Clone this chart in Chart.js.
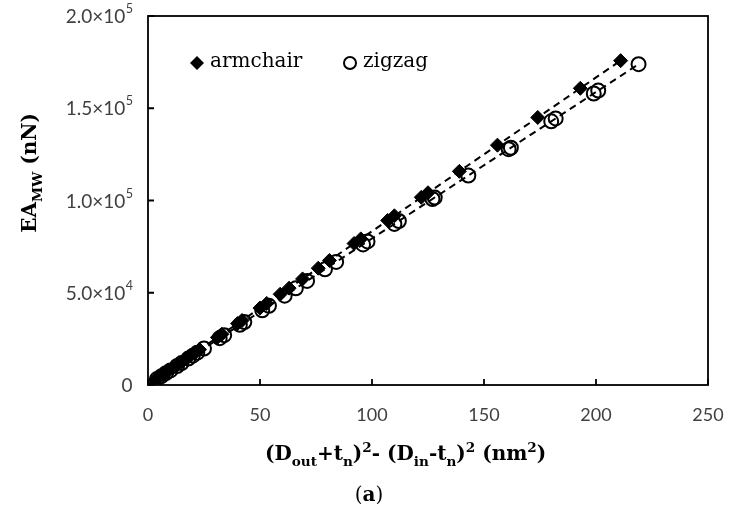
<!DOCTYPE html>
<html><head><meta charset="utf-8">
<script src="https://cdn.jsdelivr.net/npm/chart.js@4/dist/chart.umd.min.js"></script>
<style>html,body{margin:0;padding:0;background:#fff;}</style>
</head><body>
<canvas id="c" width="729" height="523" style="width:729px;height:523px;display:block"></canvas>
<script>
// ---- data (x: (Dout+tn)^2-(Din-tn)^2 in nm^2, y: EA_MW in nN) ----
const armchairX = [3, 5, 7, 9, 11, 13, 15, 17, 19, 21, 23, 31, 33, 40, 42, 50, 53, 59, 63, 69, 76, 81, 92, 95, 107, 110, 122, 125, 139, 156, 174, 193, 211];
const armchairY = [2500, 4200, 5800, 7500, 9200, 10800, 12500, 14200, 15800, 17500, 19200, 25800, 27500, 33300, 35000, 41700, 44200, 49200, 52500, 57500, 63300, 67500, 76700, 79200, 89200, 91700, 101700, 104200, 115800, 130000, 145000, 160800, 175800];
const zigzagX = [4, 6, 8, 10, 13, 15, 18, 20, 22, 25, 32, 34, 41, 43, 51, 54, 61, 66, 71, 79, 84, 96, 98, 110, 112, 127, 128, 143, 161, 162, 180, 182, 199, 201, 219];
const zigzagY = [3200, 4800, 6400, 7900, 10300, 11900, 14300, 15900, 17500, 19800, 25400, 27000, 32600, 34100, 40500, 42900, 48400, 52400, 56400, 62700, 66700, 76200, 77800, 87300, 88900, 100800, 101600, 113500, 127800, 128600, 142900, 144500, 158000, 159600, 173900];
const seriesNames = ['armchair', 'zigzag'];
const xTicks = [0, 50, 100, 150, 200, 250];
const yTicks = [0, 50000, 100000, 150000, 200000];
const yTickMantissa = ['0', '5.0×10', '1.0×10', '1.5×10', '2.0×10'];
const yTickExponent = ['', '4', '5', '5', '5'];

function toPoints(xs, ys) { return xs.map((x, i) => ({ x: x, y: ys[i] })); }
function fitLine(xs, ys) {
  let sxy = 0, sxx = 0;
  xs.forEach((x, i) => { sxy += x * ys[i]; sxx += x * x; });
  const k = sxy / sxx, xmax = Math.max(...xs);
  return [{ x: 0, y: 0 }, { x: xmax, y: k * xmax }];
}

const TITLE_FONT = '"DejaVu Serif"';
const TICK_FONT = 'Lato';
function drawRich(ctx, segs, size, cx, cy) {
  let total = 0;
  const parts = segs.map(s => {
    const fs = s.sub || s.sup ? size * 0.68 : size;
    ctx.font = 'bold ' + fs + 'px ' + TITLE_FONT;
    const w = ctx.measureText(s.t).width;
    total += w;
    return { s, fs, w };
  });
  let x = cx - total / 2;
  ctx.textBaseline = 'alphabetic';
  ctx.textAlign = 'left';
  parts.forEach(p => {
    ctx.font = 'bold ' + p.fs + 'px ' + TITLE_FONT;
    let dy = 0;
    if (p.s.sub) dy = size * 0.28;
    if (p.s.sup) dy = -size * 0.38;
    ctx.fillText(p.s.t, x, cy + size * 0.35 + dy);
    x += p.w;
  });
}

const decor = {
  id: 'decor',
  afterDraw(chart) {
    const ctx = chart.ctx, a = chart.chartArea;
    const xs = chart.scales.x, ys = chart.scales.y;
    ctx.save();
    ctx.strokeStyle = '#000';
    ctx.lineWidth = 1.8;
    ctx.strokeRect(a.left, a.top, a.right - a.left, a.bottom - a.top);
    // inward ticks
    ctx.beginPath();
    xTicks.forEach(v => {
      const px = xs.getPixelForValue(v);
      ctx.moveTo(px, a.bottom); ctx.lineTo(px, a.bottom - 6);
    });
    yTicks.forEach(v => {
      const py = ys.getPixelForValue(v);
      ctx.moveTo(a.left, py); ctx.lineTo(a.left + 6, py);
    });
    ctx.stroke();

    // y tick labels with superscript exponent
    ctx.fillStyle = '#404040';
    ctx.textBaseline = 'middle';
    yTicks.forEach((v, i) => {
      const py = ys.getPixelForValue(v);
      const right = a.left - 15;
      ctx.font = '12.5px ' + TICK_FONT;
      const we = yTickExponent[i] ? ctx.measureText(yTickExponent[i]).width : 0;
      ctx.textAlign = 'right';
      if (we) ctx.fillText(yTickExponent[i], right, py - 7);
      ctx.font = '19px ' + TICK_FONT;
      ctx.fillText(yTickMantissa[i], right - we - 0.5, py + 1);
    });

    // legend
    const ly = a.top + 47;
    ctx.fillStyle = '#000';
    ctx.strokeStyle = '#000';
    let lx = a.left + 49;
    ctx.beginPath();
    ctx.moveTo(lx, ly - 7); ctx.lineTo(lx + 7, ly); ctx.lineTo(lx, ly + 7); ctx.lineTo(lx - 7, ly); ctx.closePath();
    ctx.fill();
    ctx.font = '20px ' + TITLE_FONT;
    ctx.textBaseline = 'middle'; ctx.textAlign = 'left';
    ctx.fillText(seriesNames[0], lx + 13, ly - 1);
    lx = a.left + 202;
    ctx.beginPath(); ctx.lineWidth = 2; ctx.arc(lx, ly, 6, 0, Math.PI * 2); ctx.stroke();
    ctx.fillText(seriesNames[1], lx + 13, ly - 1);

    // axis titles
    ctx.fillStyle = '#000';
    const cxTitle = a.left + (a.right - a.left) * 0.46;
    drawRich(ctx, [{ t: '(D' }, { t: 'out', sub: 1 }, { t: '+t' }, { t: 'n', sub: 1 }, { t: ')' }, { t: '2', sup: 1 },
      { t: '- (D' }, { t: 'in', sub: 1 }, { t: '-t' }, { t: 'n', sub: 1 }, { t: ')' }, { t: '2', sup: 1 },
      { t: ' (nm' }, { t: '2', sup: 1 }, { t: ')' }], 20, cxTitle, a.bottom + 68);
    ctx.save();
    ctx.translate(29, a.top + (a.bottom - a.top) * 0.425);
    ctx.rotate(-Math.PI / 2);
    drawRich(ctx, [{ t: 'EA' }, { t: 'MW', sub: 1 }, { t: ' (nN)' }], 20, 0, 0);
    ctx.restore();

    // caption (a)
    ctx.textBaseline = 'middle';
    ctx.textAlign = 'left';
    ctx.font = '20px ' + TITLE_FONT;
    const w1 = ctx.measureText('(').width;
    ctx.font = 'bold 20px ' + TITLE_FONT;
    const w2 = ctx.measureText('a').width;
    const cx = 369 - (2 * w1 + w2) / 2, cy = a.bottom + 111;
    ctx.font = '20px ' + TITLE_FONT; ctx.fillText('(', cx, cy);
    ctx.font = 'bold 20px ' + TITLE_FONT; ctx.fillText('a', cx + w1, cy);
    ctx.font = '20px ' + TITLE_FONT; ctx.fillText(')', cx + w1 + w2, cy);
    ctx.restore();
  }
};

new Chart(document.getElementById('c'), {
  type: 'scatter',
  data: {
    datasets: [
      { label: seriesNames[0], data: toPoints(armchairX, armchairY), pointStyle: 'rectRot', pointRadius: 7, pointHoverRadius: 7,
        backgroundColor: '#000', borderColor: '#000', borderWidth: 1, order: 2 },
      { label: seriesNames[1], data: toPoints(zigzagX, zigzagY), pointStyle: 'circle', pointRadius: 7, pointHoverRadius: 7,
        backgroundColor: 'rgba(255,255,255,0)', borderColor: '#000', borderWidth: 2, order: 1 },
      { label: 'fit armchair', type: 'line', data: fitLine(armchairX, armchairY), borderColor: '#000', borderWidth: 2,
        borderDash: [7, 5], pointRadius: 0, fill: false, order: 3 },
      { label: 'fit zigzag', type: 'line', data: fitLine(zigzagX, zigzagY), borderColor: '#000', borderWidth: 2,
        borderDash: [7, 5], pointRadius: 0, fill: false, order: 3 }
    ]
  },
  options: {
    responsive: false, animation: false,
    layout: { padding: { top: 16, right: 21, left: 0, bottom: 0 } },
    plugins: { legend: { display: false }, tooltip: { enabled: false } },
    scales: {
      x: {
        type: 'linear', min: 0, max: 250,
        afterBuildTicks: s => { s.ticks = xTicks.map(v => ({ value: v })); },
        grid: { display: false, drawTicks: false },
        border: { display: false },
        ticks: { padding: 19, color: '#404040', font: { family: TICK_FONT, size: 18 }, maxRotation: 0, callback: v => String(v) },
        afterFit: s => { s.height = 138; s.paddingLeft = 0; s.paddingRight = 0; }
      },
      y: {
        type: 'linear', min: 0, max: 200000,
        afterBuildTicks: s => { s.ticks = yTicks.map(v => ({ value: v })); },
        grid: { display: false, drawTicks: false },
        border: { display: false },
        ticks: { display: false },
        afterFit: s => { s.width = 148; s.paddingTop = 0; s.paddingBottom = 0; }
      }
    }
  },
  plugins: [decor]
});
</script>
</body></html>
